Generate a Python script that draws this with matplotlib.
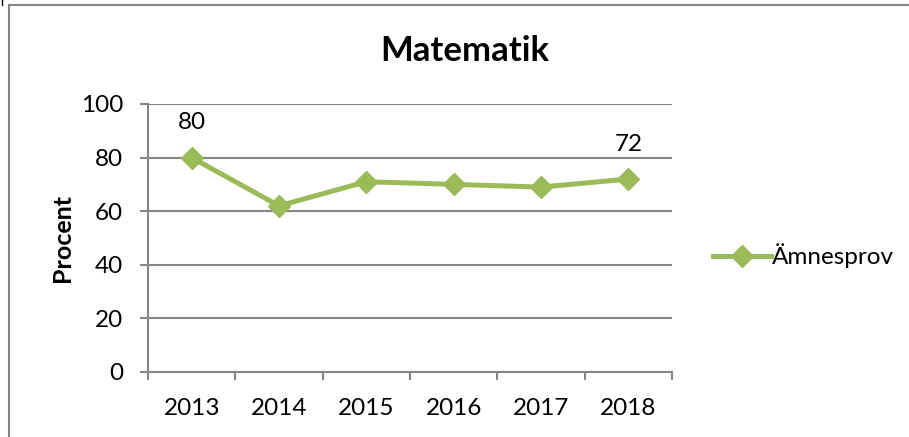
import matplotlib.pyplot as plt
from matplotlib.lines import Line2D

# Data
years = ["2013", "2014", "2015", "2016", "2017", "2018"]
amnesprov = [80, 62, 71, 70, 69, 72]
labelled = [0, 5]  # points with data labels

GREEN = "#9BBB59"
GRAY = "#868686"
plt.rcParams["font.family"] = ["Lato", "DejaVu Sans"]

W, H = 909, 437
fig = plt.figure(figsize=(W / 100, H / 100), dpi=100)
ax = fig.add_axes([148 / W, 65 / H, 524 / W, 268 / H])

x = list(range(len(years)))
ax.plot(x, amnesprov, color=GREEN, lw=3.6, marker="D", markersize=11,
        markeredgecolor=GREEN, label="Ämnesprov", zorder=3,
        solid_joinstyle="miter")

for i in labelled:
    ax.annotate(str(amnesprov[i]), (x[i], amnesprov[i]), xytext=(0, 25),
                textcoords="offset points", ha="center", va="center",
                fontsize=17.5)

ax.set_xlim(-0.5, len(years) - 0.5)
ax.set_ylim(0, 100)
ax.set_yticks(range(0, 101, 20))
ax.set_xticks(x)
ax.set_xticklabels(years)
ax.set_xticks([i - 0.5 for i in range(len(years) + 1)], minor=True)
ax.tick_params(axis="x", which="major", length=0, pad=19, labelsize=17.5)
ax.tick_params(axis="x", which="minor", length=6, width=1.5, color=GRAY,
               direction="out")
ax.tick_params(axis="y", length=6, width=1.5, color=GRAY, pad=12,
               labelsize=17.5)
ax.grid(axis="y", color=GRAY, lw=1.5)
ax.set_axisbelow(True)
for side in ["top", "right"]:
    ax.spines[side].set_visible(False)
for side in ["left", "bottom"]:
    ax.spines[side].set_color(GRAY)
    ax.spines[side].set_linewidth(1.5)

ax.set_ylabel("Procent", fontsize=18, fontweight="bold", labelpad=5)
fig.text(465 / W, 1 - 51 / H, "Matematik", ha="center", va="center",
         fontsize=25, fontweight="bold")

ax.legend(loc="center left", bbox_to_anchor=(703 / W, 1 - 256 / H),
          bbox_transform=fig.transFigure, frameon=False, fontsize=17.5,
          handlelength=2.4, handletextpad=0.05, borderaxespad=0)

# chart frame
fig.add_artist(Line2D([8.5 / W, 8.5 / W], [0, 1 - 5 / H], color=GRAY, lw=1.5,
                      transform=fig.transFigure))
fig.add_artist(Line2D([8.5 / W, 1], [1 - 5 / H, 1 - 5 / H], color=GRAY, lw=1.5,
                      transform=fig.transFigure))
fig.add_artist(Line2D([2 / W, 2 / W], [1 - 5 / H, 1], color="black", lw=1,
                      transform=fig.transFigure))

fig.savefig("out.png", dpi=100, facecolor="white")
